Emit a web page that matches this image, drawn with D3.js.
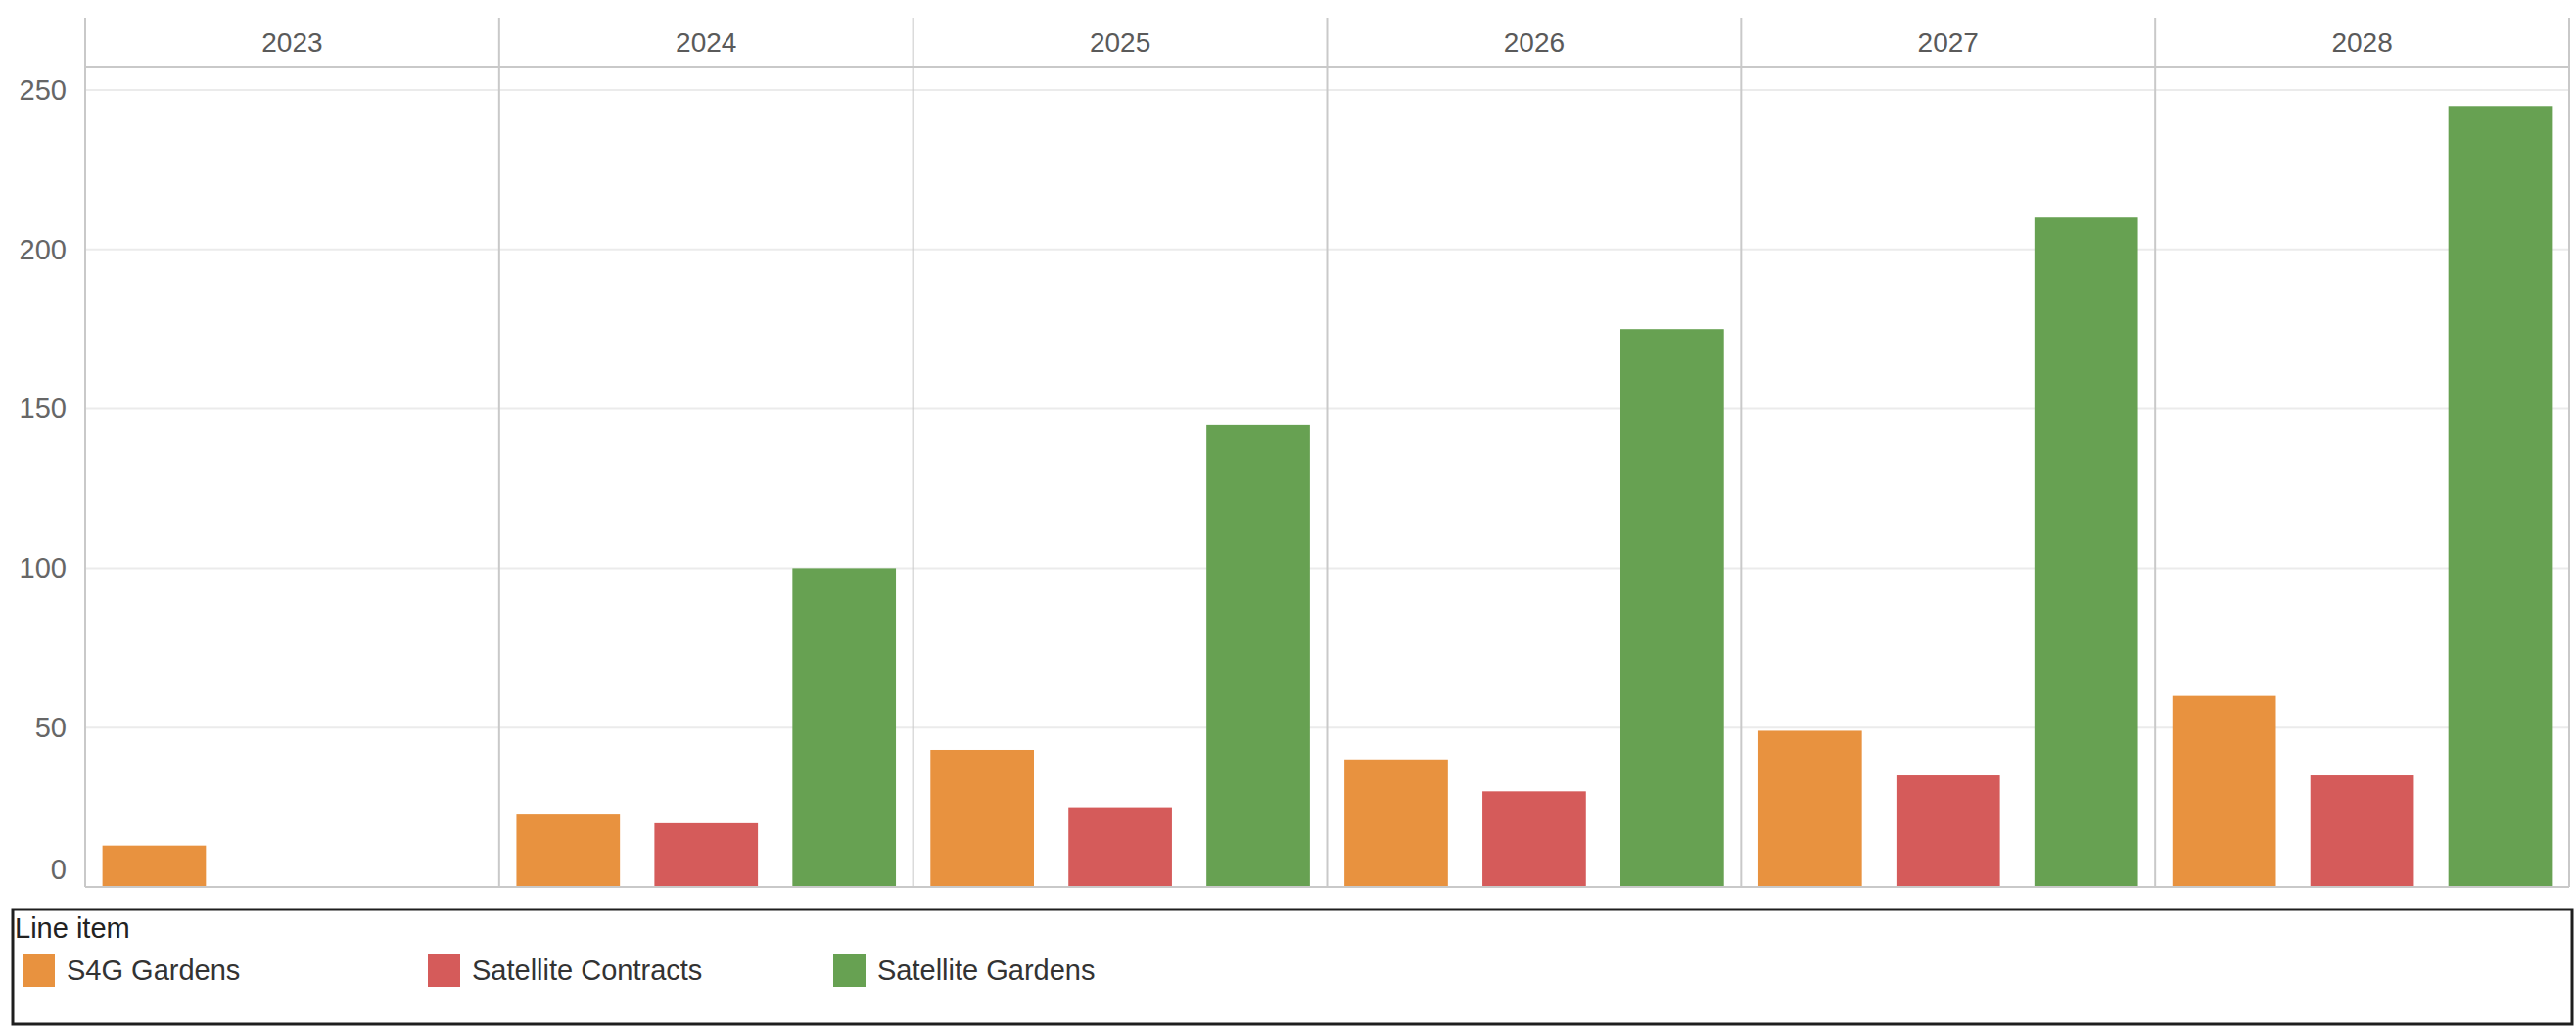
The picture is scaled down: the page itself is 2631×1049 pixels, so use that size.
<!DOCTYPE html>
<html>
<head>
<meta charset="utf-8">
<script src="https://cdn.jsdelivr.net/npm/d3@7/dist/d3.min.js"></script>
<style>
  html, body { margin: 0; padding: 0; background: #ffffff; }
  svg { display: block; font-family: "Liberation Sans", Arial, sans-serif; }
</style>
</head>
<body>
<svg id="chart" width="2631" height="1049"></svg>
<script>
// Yearly values per line item
const years = ["2023", "2024", "2025", "2026", "2027", "2028"];
const seriesNames = ["S4G Gardens", "Satellite Contracts", "Satellite Gardens"];
const s4gGardens = [13, 23, 43, 40, 49, 60];
const satelliteContracts = [null, 20, 25, 30, 35, 35];
const satelliteGardens = [null, 100, 145, 175, 210, 245];
const yTicks = [0, 50, 100, 150, 200, 250];
const legendTitle = "Line item";

const seriesValues = [s4gGardens, satelliteContracts, satelliteGardens];
const colors = ["#e8923f", "#d55b5a", "#67a152"];

const svg = d3.select("#chart");

const plot = { left: 87, right: 2624, top: 92, bottom: 906, headerTop: 18, headerLine: 68 };

const x0 = d3.scaleBand().domain(years).range([plot.left, plot.right]).padding(0);
const x1 = d3.scaleBand().domain(seriesNames).range([0, x0.bandwidth()])
  .paddingInner(0.25).paddingOuter(0.125);
const y = d3.scaleLinear().domain([0, 250]).range([plot.bottom, plot.top]);
const color = d3.scaleOrdinal().domain(seriesNames).range(colors);

// Horizontal gridlines
svg.append("g")
  .selectAll("line")
  .data(yTicks.filter(t => t !== 0))
  .join("line")
  .attr("x1", plot.left).attr("x2", plot.right)
  .attr("y1", d => y(d)).attr("y2", d => y(d))
  .attr("stroke", "#ebebeb").attr("stroke-width", 2);

// Y axis labels
const yAxis = svg.append("g")
  .attr("transform", `translate(${plot.left},0)`)
  .call(d3.axisLeft(y).tickValues(yTicks).tickSize(0).tickPadding(19));
yAxis.select(".domain").remove();
yAxis.selectAll("text")
  .attr("font-size", 29)
  .attr("font-family", "\"Liberation Sans\", Arial, sans-serif")
  .attr("fill", "#666666")
  .attr("dy", d => d === 0 ? "-0.3em" : "0.32em");

// Bars
const rows = years.map((yr, i) => ({
  year: yr,
  values: seriesNames.map((s, k) => ({ key: s, value: seriesValues[k][i] }))
}));

svg.append("g")
  .selectAll("g")
  .data(rows)
  .join("g")
  .attr("transform", d => `translate(${x0(d.year)},0)`)
  .selectAll("rect")
  .data(d => d.values.filter(v => v.value !== null))
  .join("rect")
  .attr("x", d => x1(d.key))
  .attr("width", x1.bandwidth())
  .attr("y", d => y(d.value))
  .attr("height", d => y(0) - y(d.value))
  .attr("fill", d => color(d.key));

// Panel dividers and outer borders
const dividers = years.map(yr => x0(yr)).concat([plot.right]);
svg.append("g")
  .selectAll("line")
  .data(dividers)
  .join("line")
  .attr("x1", d => d).attr("x2", d => d)
  .attr("y1", plot.headerTop).attr("y2", plot.bottom)
  .attr("stroke", "#c9c9c9").attr("stroke-width", 2);

// Header separator and baseline
svg.append("line")
  .attr("x1", plot.left).attr("x2", plot.right)
  .attr("y1", plot.headerLine).attr("y2", plot.headerLine)
  .attr("stroke", "#c9c9c9").attr("stroke-width", 2);
svg.append("line")
  .attr("x1", plot.left).attr("x2", plot.right)
  .attr("y1", y(0)).attr("y2", y(0))
  .attr("stroke", "#c9c9c9").attr("stroke-width", 2);

// Year headers
svg.append("g")
  .selectAll("text")
  .data(years)
  .join("text")
  .attr("x", d => x0(d) + x0.bandwidth() / 2)
  .attr("y", 43)
  .attr("dy", "0.35em")
  .attr("text-anchor", "middle")
  .attr("font-size", 28)
  .attr("fill", "#5a5a5a")
  .text(d => d);

// Legend
const legend = svg.append("g");
legend.append("rect")
  .attr("x", 13).attr("y", 929)
  .attr("width", 2614).attr("height", 117)
  .attr("fill", "none").attr("stroke", "#1e1e1e").attr("stroke-width", 3);
legend.append("text")
  .attr("x", 15).attr("y", 948).attr("dy", "0.35em")
  .attr("font-size", 29).attr("fill", "#222222")
  .text(legendTitle);

const legendX = d3.scalePoint().domain(seriesNames).range([23, 851]);
const items = legend.selectAll("g.item")
  .data(seriesNames)
  .join("g")
  .attr("class", "item")
  .attr("transform", d => `translate(${legendX(d)},974)`);
items.append("rect")
  .attr("width", 33).attr("height", 34)
  .attr("fill", d => color(d));
items.append("text")
  .attr("x", 45).attr("y", 17).attr("dy", "0.35em")
  .attr("font-size", 29).attr("fill", "#333333")
  .text(d => d);
</script>
</body>
</html>
